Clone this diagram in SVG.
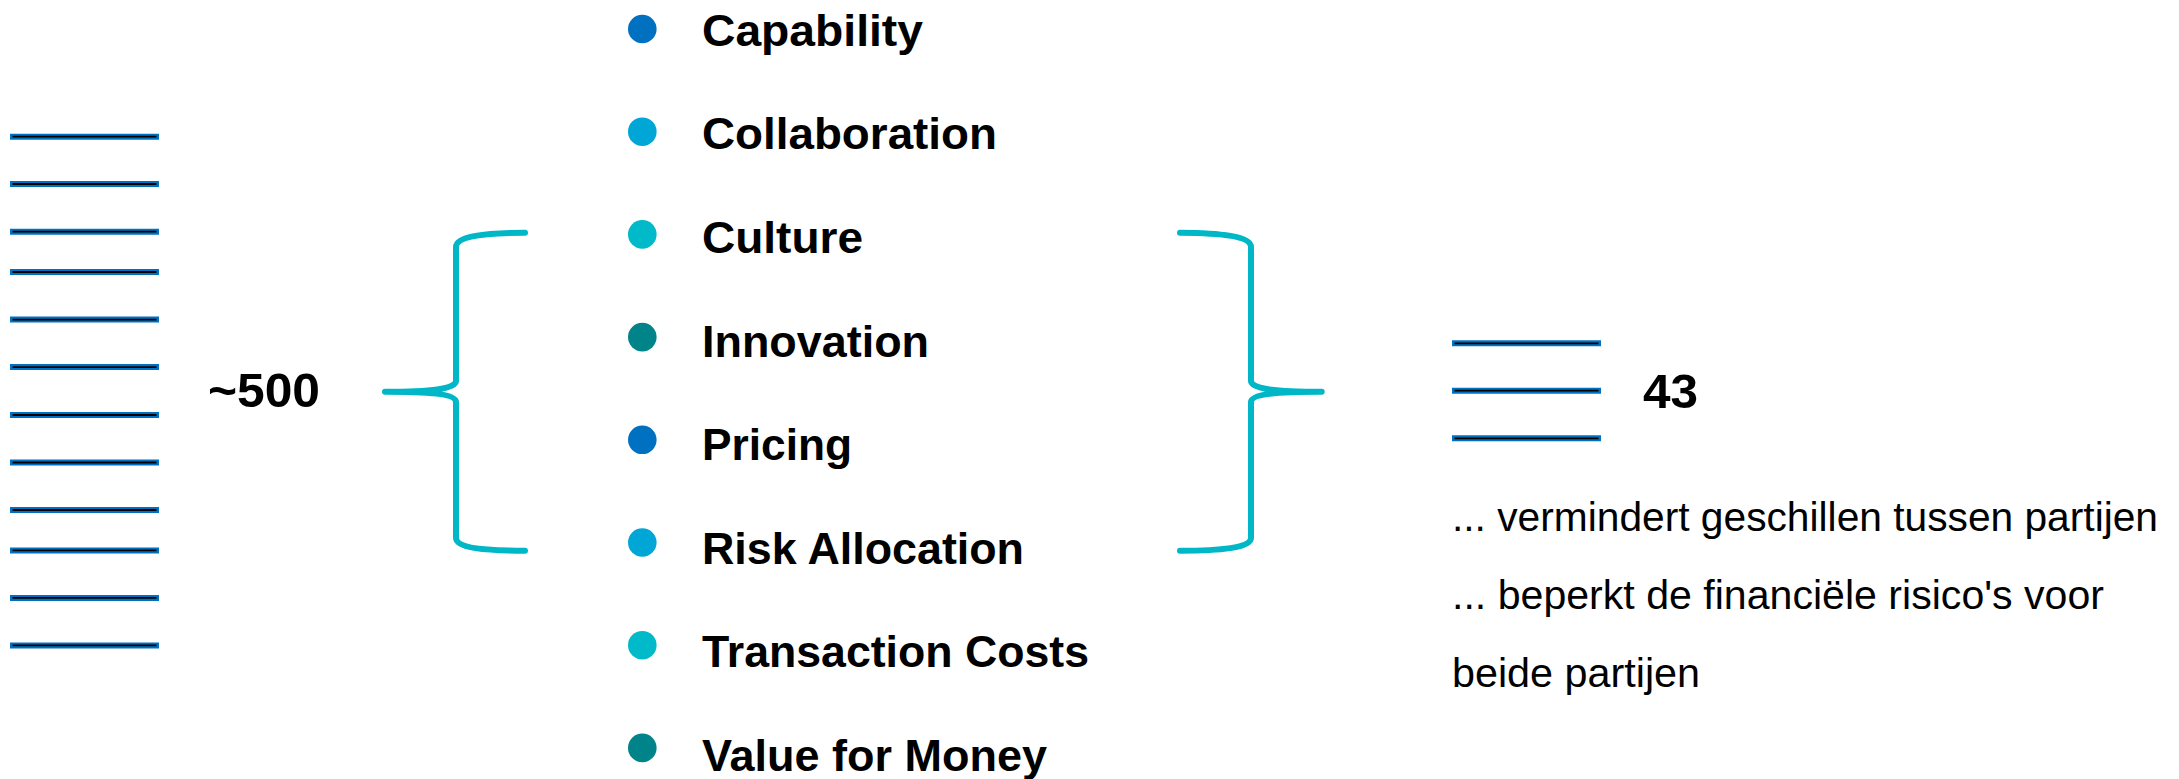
<svg xmlns="http://www.w3.org/2000/svg" width="2179" height="779" viewBox="0 0 2179 779">
<defs>
<style>
.lb{stroke:#0070C0;stroke-width:6;fill:none}
.lk{stroke:#000;stroke-width:1.8;fill:none}
.lbl{font-family:"Liberation Sans",Arial,sans-serif;font-weight:bold;font-size:44px;fill:#000}
.num{font-family:"Liberation Sans",Arial,sans-serif;font-weight:bold;font-size:48px;fill:#000}
.txt{font-family:"Liberation Sans",Arial,sans-serif;font-size:41px;fill:#000}
.brace{stroke:#00B7C7;stroke-width:6;fill:none;stroke-linecap:round;stroke-linejoin:round}
.c1{fill:#0070C0}.c2{fill:#00A6D6}.c3{fill:#00B9C9}.c4{fill:#00848A}
</style>
<g id="doc">
<line class="lb" x1="10" y1="0" x2="159" y2="0"/>
<line class="lk" x1="12.5" y1="0" x2="156.5" y2="0"/>
</g>
</defs>
<rect width="2179" height="779" fill="#fff"/>

<g id="source-documents">
<use href="#doc" y="136.7"/>
<use href="#doc" y="184"/>
<use href="#doc" y="231.7"/>
<use href="#doc" y="272"/>
<use href="#doc" y="319.6"/>
<use href="#doc" y="367.1"/>
<use href="#doc" y="415"/>
<use href="#doc" y="462.5"/>
<use href="#doc" y="510"/>
<use href="#doc" y="550.4"/>
<use href="#doc" y="597.9"/>
<use href="#doc" y="645.4"/>
</g>
<g id="count-500"><text class="num" x="208" y="407" textLength="112" lengthAdjust="spacingAndGlyphs">~500</text></g>

<g id="connectors">
<path class="brace" d="M525,232.7 C485,233 456,236 456,247 L456,381 C456,389 430,391.7 385,391.7 C430,391.7 456,394 456,402 L456,538 C456,548 485,550.7 525,550.7"/>
<path class="brace" d="M1180,232.7 C1220,233 1251,236 1251,247 L1251,381 C1251,389 1277,391.7 1321.7,391.7 C1277,391.7 1251,394 1251,402 L1251,538 C1251,548 1220,550.7 1180,550.7"/>
</g>

<g id="item-capability"><circle class="c1" cx="642.3" cy="29" r="14.3"/><text class="lbl" x="702" y="45.7" textLength="221" lengthAdjust="spacingAndGlyphs">Capability</text></g>
<g id="item-collaboration"><circle class="c2" cx="642.3" cy="131.7" r="14.3"/><text class="lbl" x="702" y="149.3" textLength="295" lengthAdjust="spacingAndGlyphs">Collaboration</text></g>
<g id="item-culture"><circle class="c3" cx="642.3" cy="234.4" r="14.3"/><text class="lbl" x="702" y="252.9" textLength="161" lengthAdjust="spacingAndGlyphs">Culture</text></g>
<g id="item-innovation"><circle class="c4" cx="642.3" cy="337.1" r="14.3"/><text class="lbl" x="702" y="356.5" textLength="227" lengthAdjust="spacingAndGlyphs">Innovation</text></g>
<g id="item-pricing"><circle class="c1" cx="642.3" cy="439.8" r="14.3"/><text class="lbl" x="702" y="460.1" textLength="150" lengthAdjust="spacingAndGlyphs">Pricing</text></g>
<g id="item-risk"><circle class="c2" cx="642.3" cy="542.5" r="14.3"/><text class="lbl" x="702" y="563.7" textLength="322" lengthAdjust="spacingAndGlyphs">Risk Allocation</text></g>
<g id="item-transaction"><circle class="c3" cx="642.3" cy="645.2" r="14.3"/><text class="lbl" x="702" y="667.3" textLength="387" lengthAdjust="spacingAndGlyphs">Transaction Costs</text></g>
<g id="item-value"><circle class="c4" cx="642.3" cy="747.9" r="14.3"/><text class="lbl" x="702" y="770.9" textLength="345" lengthAdjust="spacingAndGlyphs">Value for Money</text></g>

<g id="result-documents">
<line class="lb" x1="1452" y1="343.3" x2="1601" y2="343.3"/><line class="lk" x1="1454.5" y1="343.3" x2="1598.5" y2="343.3"/>
<line class="lb" x1="1452" y1="390.7" x2="1601" y2="390.7"/><line class="lk" x1="1454.5" y1="390.7" x2="1598.5" y2="390.7"/>
<line class="lb" x1="1452" y1="438.3" x2="1601" y2="438.3"/><line class="lk" x1="1454.5" y1="438.3" x2="1598.5" y2="438.3"/>
</g>
<g id="count-43"><text class="num" x="1643" y="408" textLength="55" lengthAdjust="spacingAndGlyphs">43</text></g>

<g id="effects">
<text class="txt" x="1452" y="531" textLength="706" lengthAdjust="spacingAndGlyphs">... vermindert geschillen tussen partijen</text>
<text class="txt" x="1452" y="609" textLength="652" lengthAdjust="spacingAndGlyphs">... beperkt de financiële risico's voor</text>
<text class="txt" x="1452" y="687" textLength="248" lengthAdjust="spacingAndGlyphs">beide partijen</text>
</g>
</svg>
